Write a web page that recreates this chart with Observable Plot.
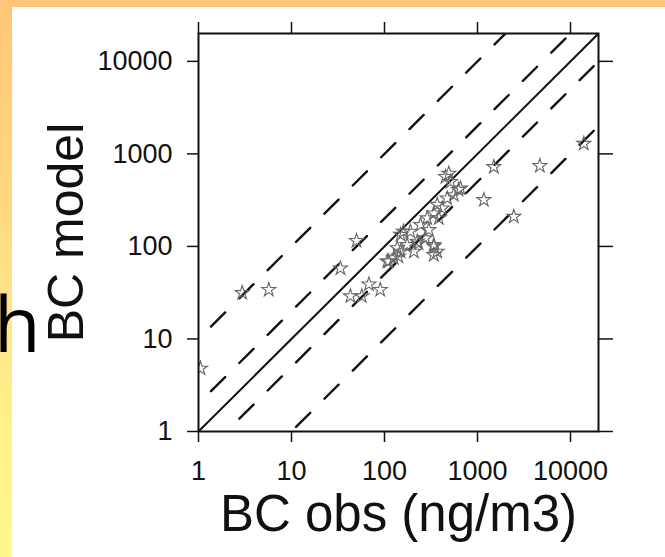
<!DOCTYPE html>
<html>
<head>
<meta charset="utf-8">
<script src="https://cdn.jsdelivr.net/npm/d3@7"></script>
<script src="https://cdn.jsdelivr.net/npm/@observablehq/plot@0.6"></script>
<style>
html, body { margin: 0; padding: 0; width: 665px; height: 557px; overflow: hidden; background: #ffffff; }
#topband { position: absolute; left: 0; top: 0; width: 665px; height: 7px; background: #FFC878; }
#leftband { position: absolute; left: 0; top: 0; width: 12px; height: 557px;
  background: linear-gradient(to bottom, #FFC677 0%, #FFD27E 25%, #FFE488 55%, #FFF38C 80%, #FFF78E 100%); }
#slidetext { position: absolute; left: -6px; top: 285px; font-family: "Open Sans", Lato, sans-serif; font-size: 76px; line-height: 1; color: #000; }
#chart { position: absolute; left: 0; top: 0; }
</style>
</head>
<body>
<div id="topband"></div>
<div id="leftband"></div>
<div id="slidetext">h</div>
<div id="chart"></div>
<script>
// Observed BC (ng/m3) and modelled BC for each station
const obs = [1.05, 2.95, 5.7, 33.6, 50, 43, 57, 68, 90, 111, 126, 149, 175, 207, 149, 190, 244, 288, 339, 417, 384, 472, 556, 656, 492, 512, 339, 368, 339, 107, 275, 225, 300, 1497, 1170, 4680, 2455, 13900, 453, 625, 369, 160, 137, 339, 141, 232];
const model = [4.8, 31.5, 34, 58, 115, 29, 29, 39, 34, 69, 75, 88, 104, 88, 134, 145, 171, 202, 228, 258, 202, 331, 360, 424, 614, 500, 104, 88, 81, 69, 123, 113, 151, 724, 318, 743, 210, 1291, 566, 410, 283, 145, 96, 100, 78, 108];
// Reference lines: model = k * obs
const dashedRatios = [10, 2, 0.5, 0.1];
const solidRatios = [1];
const tickValues = [1, 10, 100, 1000, 10000];
const axisDomain = [1, 20000];
const xLabel = "BC obs (ng/m3)";
const yLabel = "BC model";

const points = obs.map((o, i) => ({obs: o, model: model[i]}));
const lineRows = ks => ks.flatMap(k => [0.01, 1e6].map(x => ({k, x, y: k * x})));

const chart = Plot.plot({
  width: 665,
  height: 557,
  marginLeft: 198,
  marginRight: 67,
  marginTop: 33,
  marginBottom: 126,
  style: {background: "transparent", fontFamily: "'Liberation Sans', Arial, Helvetica, sans-serif", color: "#111"},
  x: {type: "log", domain: axisDomain},
  y: {type: "log", domain: axisDomain},
  marks: [
    Plot.line(lineRows(dashedRatios), {x: "x", y: "y", z: "k", stroke: "#111", strokeWidth: 2.4, strokeDasharray: "20,20", clip: true}),
    Plot.line(lineRows(solidRatios), {x: "x", y: "y", z: "k", stroke: "#111", strokeWidth: 2, clip: true}),
    Plot.dot(points, {x: "obs", y: "model", symbol: "star", r: 4.4, stroke: "#666", strokeWidth: 1.1, fill: "none", clip: true}),
    Plot.frame({stroke: "#111", strokeWidth: 2}),
    Plot.axisX(tickValues, {anchor: "bottom", tickSize: 11, tickPadding: 18, fontSize: 27, label: null, tickFormat: d => String(d), stroke: "#111", strokeWidth: 1.5}),
    Plot.axisX(tickValues, {anchor: "top", tickSize: 12, tickFormat: () => "", label: null, stroke: "#111", strokeWidth: 1.5}),
    Plot.axisY(tickValues, {anchor: "left", tickSize: 11, tickPadding: 15, fontSize: 27, label: null, tickFormat: d => String(d), stroke: "#111", strokeWidth: 1.5}),
    Plot.axisY(tickValues, {anchor: "right", tickSize: 14, tickFormat: () => "", label: null, stroke: "#111", strokeWidth: 1.5}),
    Plot.text([xLabel], {frameAnchor: "bottom", dy: 83, text: d => d, fontSize: 51, textAnchor: "middle", lineAnchor: "middle", fill: "#111"}),
    Plot.text([yLabel], {frameAnchor: "left", dx: -132, text: d => d, fontSize: 50, rotate: -90, textAnchor: "middle", lineAnchor: "middle", fill: "#111"})
  ]
});
document.getElementById("chart").appendChild(chart);
</script>
</body>
</html>
